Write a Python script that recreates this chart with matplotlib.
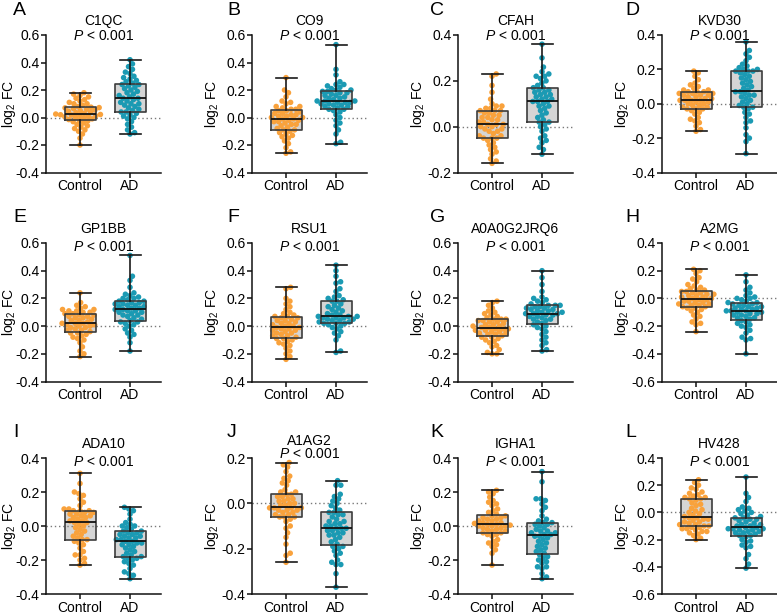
import numpy as np
import matplotlib
matplotlib.use("Agg")
import matplotlib.pyplot as plt

plt.rcParams['font.family'] = ['Liberation Sans', 'DejaVu Sans']
plt.rcParams['mathtext.fontset'] = 'custom'
plt.rcParams['mathtext.rm'] = 'Liberation Sans'
plt.rcParams['mathtext.it'] = 'Liberation Sans:italic'

# ---------------- data ----------------
panel_letters = ["A", "B", "C", "D", "E", "F", "G", "H", "I", "J", "K", "L"]
proteins = ["C1QC", "CO9", "CFAH", "KVD30", "GP1BB", "RSU1", "A0A0G2JRQ6", "A2MG",
            "ADA10", "A1AG2", "IGHA1", "HV428"]
p_labels = ["P < 0.001"] * 12
groups = ["Control", "AD"]
ylims = [(-0.4, 0.6), (-0.4, 0.6), (-0.2, 0.4), (-0.4, 0.4),
         (-0.4, 0.6), (-0.4, 0.6), (-0.4, 0.6), (-0.6, 0.4),
         (-0.4, 0.4), (-0.4, 0.2), (-0.4, 0.4), (-0.6, 0.4)]

C1QC_ctrl = [-0.20, -0.15, -0.12, -0.10, -0.09, -0.08, -0.07, -0.06, -0.05, -0.04, -0.03, -0.025,
             -0.02, -0.015, -0.01, -0.005, 0.00, 0.005, 0.01, 0.012, 0.015, 0.018, 0.02, 0.022,
             0.025, 0.03, 0.035, 0.04, 0.045, 0.05, 0.055, 0.06, 0.065, 0.07, 0.072, 0.075,
             0.08, 0.09, 0.10, 0.10, 0.11, 0.12, 0.13, 0.14, 0.15, 0.16, 0.17, 0.18]
C1QC_ad = [-0.12, -0.11, -0.09, -0.07, -0.05, -0.03, -0.01, 0.00, 0.01, 0.02, 0.03, 0.04,
           0.04, 0.05, 0.06, 0.07, 0.08, 0.09, 0.10, 0.10, 0.11, 0.12, 0.13, 0.14,
           0.14, 0.15, 0.16, 0.17, 0.18, 0.19, 0.20, 0.21, 0.22, 0.23, 0.24, 0.24,
           0.25, 0.26, 0.27, 0.28, 0.29, 0.30, 0.32, 0.33, 0.35, 0.37, 0.39, 0.42]
CO9_ctrl = [-0.26, -0.25, -0.22, -0.19, -0.17, -0.15, -0.14, -0.13, -0.12, -0.11, -0.10, -0.09,
            -0.09, -0.08, -0.07, -0.06, -0.05, -0.05, -0.04, -0.03, -0.03, -0.02, -0.02, -0.01,
            -0.01, 0.00, 0.00, 0.01, 0.01, 0.02, 0.02, 0.03, 0.03, 0.04, 0.05, 0.05,
            0.06, 0.06, 0.07, 0.08, 0.08, 0.10, 0.11, 0.12, 0.15, 0.18, 0.20, 0.29]
CO9_ad = [-0.19, -0.18, -0.12, -0.09, -0.06, -0.04, -0.02, 0.00, 0.02, 0.04, 0.05, 0.06,
          0.06, 0.07, 0.08, 0.08, 0.09, 0.09, 0.10, 0.10, 0.11, 0.11, 0.11, 0.12,
          0.12, 0.12, 0.13, 0.14, 0.14, 0.15, 0.16, 0.16, 0.17, 0.18, 0.18, 0.19,
          0.19, 0.20, 0.20, 0.21, 0.22, 0.23, 0.24, 0.24, 0.26, 0.31, 0.35, 0.53]
CFAH_ctrl = [-0.16, -0.15, -0.14, -0.12, -0.11, -0.10, -0.09, -0.08, -0.07, -0.06, -0.05, -0.05,
             -0.05, -0.04, -0.04, -0.03, -0.02, -0.02, -0.01, -0.01, 0.00, 0.00, 0.01, 0.01,
             0.01, 0.02, 0.02, 0.03, 0.03, 0.04, 0.04, 0.05, 0.05, 0.06, 0.06, 0.07,
             0.07, 0.07, 0.08, 0.08, 0.09, 0.09, 0.10, 0.12, 0.15, 0.18, 0.22, 0.23]
CFAH_ad = [-0.12, -0.10, -0.09, -0.07, -0.06, -0.05, -0.04, -0.02, -0.01, 0.00, 0.01, 0.02,
           0.02, 0.03, 0.04, 0.05, 0.06, 0.07, 0.08, 0.09, 0.09, 0.10, 0.11, 0.11,
           0.11, 0.12, 0.12, 0.13, 0.13, 0.14, 0.14, 0.15, 0.15, 0.16, 0.16, 0.17,
           0.17, 0.18, 0.19, 0.20, 0.21, 0.22, 0.22, 0.23, 0.24, 0.26, 0.30, 0.36]
KVD30_ctrl = [-0.16, -0.15, -0.13, -0.11, -0.10, -0.09, -0.08, -0.06, -0.05, -0.04, -0.03, -0.03,
              -0.03, -0.02, -0.02, -0.01, -0.01, 0.00, 0.00, 0.01, 0.01, 0.02, 0.02, 0.02,
              0.02, 0.03, 0.03, 0.04, 0.04, 0.05, 0.05, 0.05, 0.06, 0.06, 0.06, 0.07,
              0.07, 0.07, 0.08, 0.08, 0.09, 0.10, 0.11, 0.12, 0.14, 0.16, 0.18, 0.19]
KVD30_ad = [-0.29, -0.22, -0.20, -0.18, -0.14, -0.11, -0.10, -0.08, -0.06, -0.05, -0.03, -0.02,
            -0.02, -0.01, 0.00, 0.01, 0.02, 0.03, 0.04, 0.05, 0.05, 0.06, 0.07, 0.07,
            0.08, 0.09, 0.10, 0.11, 0.12, 0.13, 0.14, 0.15, 0.16, 0.17, 0.18, 0.19,
            0.19, 0.19, 0.20, 0.20, 0.21, 0.22, 0.23, 0.25, 0.27, 0.29, 0.31, 0.36]
GP1BB_ctrl = [-0.22, -0.20, -0.18, -0.15, -0.12, -0.10, -0.09, -0.08, -0.07, -0.06, -0.05, -0.05,
              -0.04, -0.03, -0.03, -0.02, -0.01, -0.01, 0.00, 0.00, 0.01, 0.01, 0.02, 0.02,
              0.02, 0.03, 0.04, 0.04, 0.05, 0.06, 0.06, 0.07, 0.07, 0.08, 0.08, 0.09,
              0.09, 0.10, 0.10, 0.11, 0.11, 0.12, 0.12, 0.13, 0.14, 0.15, 0.17, 0.24]
GP1BB_ad = [-0.18, -0.12, -0.08, -0.06, -0.05, -0.03, -0.02, 0.00, 0.01, 0.02, 0.03, 0.03,
            0.04, 0.05, 0.06, 0.07, 0.08, 0.08, 0.09, 0.10, 0.10, 0.11, 0.11, 0.12,
            0.12, 0.13, 0.13, 0.14, 0.14, 0.15, 0.15, 0.16, 0.16, 0.17, 0.17, 0.18,
            0.18, 0.19, 0.20, 0.20, 0.21, 0.22, 0.23, 0.24, 0.28, 0.33, 0.36, 0.51]
RSU1_ctrl = [-0.24, -0.22, -0.20, -0.18, -0.16, -0.14, -0.13, -0.12, -0.11, -0.10, -0.09, -0.09,
             -0.08, -0.07, -0.07, -0.06, -0.05, -0.05, -0.04, -0.03, -0.03, -0.02, -0.02, -0.01,
             -0.01, 0.00, 0.00, 0.01, 0.02, 0.02, 0.03, 0.04, 0.04, 0.05, 0.06, 0.06,
             0.07, 0.07, 0.08, 0.09, 0.10, 0.12, 0.14, 0.16, 0.18, 0.20, 0.27, 0.28]
RSU1_ad = [-0.19, -0.18, -0.10, -0.07, -0.05, -0.04, -0.02, -0.01, 0.00, 0.01, 0.02, 0.02,
           0.02, 0.03, 0.03, 0.04, 0.04, 0.05, 0.05, 0.06, 0.06, 0.06, 0.07, 0.07,
           0.07, 0.08, 0.08, 0.09, 0.10, 0.11, 0.12, 0.13, 0.14, 0.15, 0.16, 0.18,
           0.18, 0.19, 0.20, 0.21, 0.22, 0.25, 0.27, 0.31, 0.32, 0.36, 0.40, 0.44]
JRQ6_ctrl = [-0.20, -0.20, -0.19, -0.17, -0.15, -0.14, -0.12, -0.11, -0.10, -0.09, -0.08, -0.08,
             -0.07, -0.06, -0.06, -0.05, -0.05, -0.04, -0.04, -0.03, -0.03, -0.02, -0.02, -0.02,
             -0.01, -0.01, 0.00, 0.00, 0.01, 0.01, 0.02, 0.03, 0.03, 0.04, 0.04, 0.05,
             0.05, 0.05, 0.06, 0.07, 0.08, 0.09, 0.10, 0.11, 0.13, 0.15, 0.17, 0.18]
JRQ6_ad = [-0.18, -0.17, -0.14, -0.12, -0.10, -0.08, -0.06, -0.04, -0.02, -0.01, 0.00, 0.01,
           0.02, 0.03, 0.04, 0.05, 0.05, 0.06, 0.07, 0.07, 0.08, 0.08, 0.09, 0.09,
           0.09, 0.10, 0.10, 0.11, 0.11, 0.12, 0.12, 0.13, 0.13, 0.14, 0.14, 0.15,
           0.15, 0.15, 0.16, 0.17, 0.18, 0.19, 0.20, 0.21, 0.25, 0.30, 0.35, 0.40]
A2MG_ctrl = [-0.24, -0.19, -0.18, -0.17, -0.15, -0.13, -0.12, -0.10, -0.09, -0.08, -0.07, -0.07,
             -0.06, -0.06, -0.05, -0.05, -0.04, -0.04, -0.03, -0.03, -0.02, -0.02, -0.01, -0.01,
             0.00, 0.00, 0.01, 0.01, 0.02, 0.02, 0.03, 0.03, 0.04, 0.04, 0.05, 0.05,
             0.06, 0.06, 0.07, 0.08, 0.09, 0.10, 0.12, 0.14, 0.15, 0.18, 0.20, 0.21]
A2MG_ad = [-0.40, -0.30, -0.29, -0.28, -0.25, -0.23, -0.21, -0.20, -0.19, -0.18, -0.17, -0.16,
           -0.15, -0.14, -0.14, -0.13, -0.12, -0.12, -0.11, -0.11, -0.10, -0.10, -0.09, -0.09,
           -0.09, -0.08, -0.08, -0.07, -0.07, -0.06, -0.06, -0.05, -0.05, -0.04, -0.04, -0.03,
           -0.03, -0.02, -0.01, 0.00, 0.00, 0.01, 0.02, 0.04, 0.06, 0.08, 0.12, 0.17]
ADA10_ctrl = [-0.23, -0.22, -0.20, -0.19, -0.17, -0.17, -0.15, -0.13, -0.11, -0.10, -0.09, -0.08,
              -0.08, -0.07, -0.06, -0.05, -0.04, -0.03, -0.02, -0.01, 0.00, 0.01, 0.02, 0.02,
              0.03, 0.03, 0.04, 0.05, 0.05, 0.06, 0.06, 0.07, 0.07, 0.08, 0.08, 0.09,
              0.09, 0.09, 0.10, 0.10, 0.12, 0.14, 0.16, 0.18, 0.19, 0.20, 0.25, 0.31]
ADA10_ad = [-0.31, -0.29, -0.28, -0.27, -0.25, -0.23, -0.22, -0.21, -0.20, -0.19, -0.19, -0.18,
            -0.18, -0.17, -0.16, -0.15, -0.14, -0.13, -0.12, -0.11, -0.11, -0.10, -0.10, -0.09,
            -0.09, -0.08, -0.08, -0.07, -0.07, -0.06, -0.06, -0.05, -0.05, -0.04, -0.04, -0.03,
            -0.03, -0.02, -0.01, 0.00, 0.00, 0.01, 0.02, 0.04, 0.07, 0.09, 0.10, 0.11]
A1AG2_ctrl = [-0.26, -0.23, -0.22, -0.18, -0.15, -0.13, -0.11, -0.10, -0.08, -0.07, -0.06, -0.06,
              -0.06, -0.05, -0.05, -0.04, -0.04, -0.03, -0.03, -0.03, -0.02, -0.02, -0.02, -0.02,
              -0.01, -0.01, 0.00, 0.00, 0.01, 0.01, 0.02, 0.02, 0.03, 0.03, 0.04, 0.04,
              0.05, 0.05, 0.06, 0.08, 0.09, 0.10, 0.11, 0.12, 0.14, 0.16, 0.17, 0.18]
A1AG2_ad = [-0.37, -0.31, -0.27, -0.27, -0.26, -0.25, -0.23, -0.22, -0.21, -0.20, -0.19, -0.19,
            -0.18, -0.17, -0.16, -0.15, -0.14, -0.14, -0.13, -0.13, -0.12, -0.12, -0.11, -0.11,
            -0.11, -0.10, -0.10, -0.09, -0.09, -0.08, -0.08, -0.07, -0.06, -0.05, -0.05, -0.04,
            -0.04, -0.03, -0.02, -0.01, 0.00, 0.01, 0.02, 0.03, 0.04, 0.08, 0.08, 0.10]
IGHA1_ctrl = [-0.23, -0.16, -0.14, -0.12, -0.11, -0.10, -0.09, -0.08, -0.06, -0.05, -0.05, -0.04,
              -0.04, -0.03, -0.03, -0.02, -0.02, -0.01, -0.01, 0.00, 0.00, 0.005, 0.00, 0.01,
              0.01, 0.015, 0.02, 0.02, 0.03, 0.03, 0.04, 0.04, 0.05, 0.05, 0.06, 0.06,
              0.07, 0.08, 0.09, 0.10, 0.12, 0.13, 0.14, 0.15, 0.17, 0.19, 0.20, 0.21]
IGHA1_ad = [-0.31, -0.30, -0.28, -0.25, -0.24, -0.24, -0.22, -0.21, -0.20, -0.19, -0.18, -0.17,
            -0.16, -0.15, -0.14, -0.13, -0.12, -0.11, -0.10, -0.09, -0.08, -0.07, -0.06, -0.06,
            -0.05, -0.05, -0.04, -0.04, -0.03, -0.03, -0.02, -0.01, 0.00, 0.01, 0.01, 0.02,
            0.02, 0.03, 0.04, 0.06, 0.09, 0.11, 0.13, 0.15, 0.16, 0.16, 0.26, 0.32]
HV428_ctrl = [-0.20, -0.19, -0.17, -0.16, -0.15, -0.14, -0.14, -0.13, -0.12, -0.12, -0.11, -0.11,
              -0.10, -0.10, -0.09, -0.09, -0.08, -0.07, -0.07, -0.06, -0.05, -0.05, -0.04, -0.04,
              -0.03, -0.02, -0.01, 0.00, 0.01, 0.02, 0.03, 0.05, 0.06, 0.07, 0.09, 0.10,
              0.10, 0.11, 0.11, 0.12, 0.13, 0.14, 0.15, 0.17, 0.18, 0.20, 0.22, 0.24]
HV428_ad = [-0.41, -0.38, -0.34, -0.31, -0.26, -0.25, -0.24, -0.22, -0.21, -0.20, -0.18, -0.17,
            -0.17, -0.16, -0.15, -0.15, -0.14, -0.14, -0.13, -0.13, -0.12, -0.12, -0.12, -0.11,
            -0.11, -0.10, -0.10, -0.09, -0.09, -0.08, -0.07, -0.06, -0.05, -0.05, -0.04, -0.04,
            -0.03, -0.02, -0.01, 0.00, 0.01, 0.02, 0.03, 0.04, 0.08, 0.11, 0.14, 0.26]

control_values = [C1QC_ctrl, CO9_ctrl, CFAH_ctrl, KVD30_ctrl, GP1BB_ctrl, RSU1_ctrl,
                  JRQ6_ctrl, A2MG_ctrl, ADA10_ctrl, A1AG2_ctrl, IGHA1_ctrl, HV428_ctrl]
ad_values = [C1QC_ad, CO9_ad, CFAH_ad, KVD30_ad, GP1BB_ad, RSU1_ad,
             JRQ6_ad, A2MG_ad, ADA10_ad, A1AG2_ad, IGHA1_ad, HV428_ad]

# ---------------- style / layout ----------------
W, H = 777, 615
DPI = 100
col_left = [46, 252, 458, 662]
ylab_off = [37, 40, 40, 40]
ax_w = 115
row_top = [35, 243, 458]
ax_h = [137.5, 138.5, 136]
letter_x = [13, 227, 430, 625]
letter_top = [2, 209, 424]
name_dy = [-14, -14, -14]
p_dy = [1, 4, 4]
XLIM = (-0.68, 1.62)
ORANGE = "#F9A23C"
TEAL = "#1B9AB3"
BOXFILL = "#D5D5D5"
FS = 10
DOT_D = 4.8  # px collision distance (markers overlap slightly, as in the reference)


def swarm_offsets(vals, ypx, d):
    ys = np.asarray(vals, dtype=float) * ypx
    order = np.argsort(ys, kind="stable")
    placed = []
    xs = np.zeros(len(ys))
    for i in order:
        y = ys[i]
        near = [(px, py) for px, py in placed if abs(py - y) < d]
        cands = [0.0]
        for px, py in near:
            dx = np.sqrt(max(d * d - (py - y) ** 2, 0.0))
            cands += [px + dx, px - dx]
        cands.sort(key=abs)
        for c in cands:
            if all((c - px) ** 2 + (y - py) ** 2 >= d * d - 1e-6 for px, py in near):
                xs[i] = c
                break
        placed.append((xs[i], y))
    return xs


fig = plt.figure(figsize=(W / DPI, H / DPI), dpi=DPI)

for k in range(12):
    r, c = divmod(k, 4)
    l = col_left[c]
    t = row_top[r]
    h = ax_h[r]
    ax = fig.add_axes([l / W, 1 - (t + h) / H, ax_w / W, h / H])
    y0, y1 = ylims[k]
    ax.set_xlim(*XLIM)
    ax.set_ylim(y0, y1)
    xpx = ax_w / (XLIM[1] - XLIM[0])
    ypx = h / (y1 - y0)

    data = [control_values[k], ad_values[k]]
    # box fill
    ax.boxplot(data, positions=[0, 1], widths=0.62, whis=(0, 100), showfliers=False,
               patch_artist=True, zorder=1,
               boxprops=dict(facecolor=BOXFILL, edgecolor="none"),
               medianprops=dict(color="none"), whiskerprops=dict(color="none"),
               capprops=dict(color="none"))
    ax.axhline(0, color="#7a7a7a", lw=1.0, ls=(0, (1, 2)), zorder=1.5)
    # points
    for gi, (vals, col) in enumerate(zip(data, [ORANGE, TEAL])):
        off = swarm_offsets(vals, ypx, DOT_D) / xpx
        ax.scatter(gi + off, vals, s=16, color=col, edgecolors="none", zorder=3)
    # box lines on top
    ax.boxplot(data, positions=[0, 1], widths=0.62, whis=(0, 100), showfliers=False,
               capwidths=0.42, zorder=4,
               boxprops=dict(color="#3c3c3c", lw=1.2),
               medianprops=dict(color="#111111", lw=1.3),
               whiskerprops=dict(color="#1a1a1a", lw=1.2),
               capprops=dict(color="#1a1a1a", lw=1.2))

    ax.set_xticks([0, 1])
    ax.set_xticklabels(groups, fontsize=FS)
    ticks = np.round(np.arange(y0, y1 + 1e-9, 0.2), 1)
    ax.set_yticks(ticks)
    ax.set_yticklabels([f"{v:.1f}" if abs(v) > 1e-9 else "0.0" for v in ticks], fontsize=FS)
    for s in ["top", "right"]:
        ax.spines[s].set_visible(False)
    for s in ["left", "bottom"]:
        ax.spines[s].set_linewidth(1.1)
        ax.spines[s].set_color("#111111")
    ax.tick_params(axis="both", length=3.5, width=1.1, color="#111111", pad=1.2)

    cx = (l + ax_w / 2) / W
    ndy = name_dy[r] if k != 9 else -17
    pdy = p_dy[r] if k != 9 else -4
    fig.text(cx, 1 - (t + ndy) / H, proteins[k], ha="center", va="center", fontsize=FS)
    fig.text(cx, 1 - (t + pdy) / H, r"$\mathit{P}$ < 0.001", ha="center", va="center", fontsize=FS)
    fig.text((l - ylab_off[c]) / W, 1 - (t + h / 2) / H, r"log$_2$ FC", rotation=90,
             ha="center", va="center", fontsize=FS)
    fig.text(letter_x[c] / W, 1 - letter_top[r] / H, panel_letters[k], ha="left", va="top",
             fontsize=14)

fig.savefig("out.png", dpi=DPI)
